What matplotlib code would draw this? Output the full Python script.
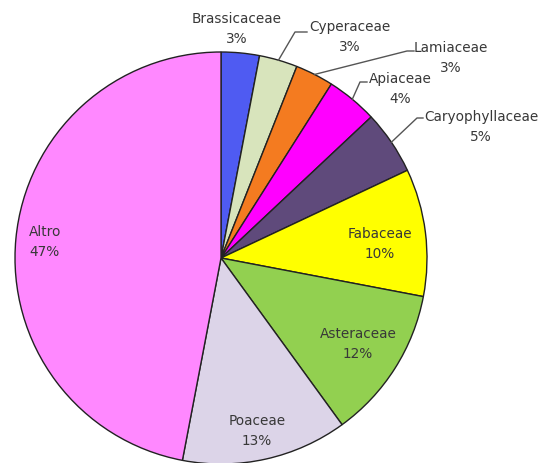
import numpy as np
import matplotlib.pyplot as plt

families = ["Brassicaceae", "Cyperaceae", "Lamiaceae", "Apiaceae", "Caryophyllaceae",
            "Fabaceae", "Asteraceae", "Poaceae", "Altro"]
percent = [3, 3, 3, 4, 5, 10, 12, 13, 47]
colors = ["#4F5BF2", "#D8E4BC", "#F47B20", "#FF00FF", "#5F4A7B",
          "#FFFF00", "#92D050", "#DCD4E8", "#FF88FF"]

# layout in pixels (image coords) -> converted to data units below
cx, cy, R = 221, 258, 206
label_px = [(237, 29), (350, 37), (451, 58), (400, 89), (481, 127),
            (380, 244), (358, 344), (257, 431), (45, 242)]
# leader elbow + end, None = no leader
leader_px = [None,
             [(295, 32), (307, 32)],
             [(407, 51), (414, 51)],
             [(360, 82), (367, 82)],
             [(417, 118), (423, 118)],
             None, None, None, None]


def to_data(p):
    return ((p[0] - cx) / R, (cy - p[1]) / R)


fig = plt.figure(figsize=(5.42, 4.63), dpi=100)
ax = fig.add_axes([0, 0, 1, 1])
wedges, _ = ax.pie(percent, colors=colors, startangle=90, counterclock=False, radius=1,
                   wedgeprops=dict(edgecolor="#222222", linewidth=1))
ax.set_xlim(-cx / R, (542 - cx) / R)
ax.set_ylim(-(463 - cy) / R, cy / R)
ax.set_aspect("equal", adjustable="datalim")
ax.axis("off")

for w, name, p, lp, ld in zip(wedges, families, percent, label_px, leader_px):
    x, y = to_data(lp)
    ax.text(x, y, f"{name}\n{p}%", ha="center", va="center", fontsize=9.8,
            color="#383838", linespacing=1.55)
    if ld:
        mid = np.radians((w.theta1 + w.theta2) / 2)
        pts = [(np.cos(mid), np.sin(mid))] + [to_data(q) for q in ld]
        xs, ys = zip(*pts)
        ax.plot(xs, ys, color="#555555", lw=1)

plt.savefig("out.png", dpi=100)
